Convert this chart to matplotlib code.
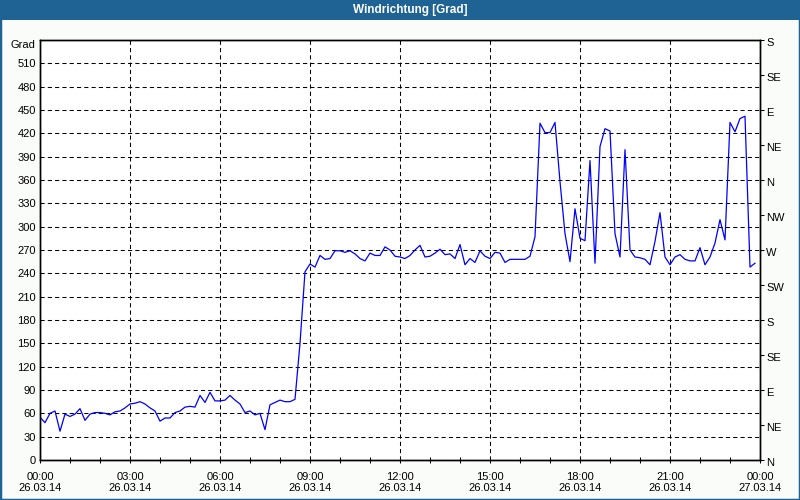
import matplotlib
matplotlib.use('Agg')
import matplotlib.pyplot as plt
import matplotlib.dates as mdates
import matplotlib.transforms as mtransforms
from matplotlib.patches import Rectangle
import pandas as pd

plt.rcParams['font.family'] = ['Liberation Sans', 'DejaVu Sans']

# ---- data ----
start_time = '2014-03-26 00:00'
step = '10min'
wind_dir = [55, 48, 60, 63, 37, 59, 56, 59, 66, 51,
            59, 61, 61, 60, 58, 62, 63, 67, 72, 73,
            75, 72, 67, 63, 50, 54, 54, 61, 63, 68,
            69, 68, 83, 74, 87, 76, 76, 77, 83, 77,
            72, 61, 63, 58, 60, 39, 71, 74, 77, 75,
            75, 78, 150, 242, 252, 248, 263, 258, 259, 269,
            269, 267, 269, 265, 259, 256, 266, 263, 263, 274,
            270, 262, 261, 259, 263, 270, 276, 261, 262, 266,
            271, 264, 265, 259, 277, 251, 259, 254, 269, 262,
            259, 267, 266, 254, 258, 258, 258, 258, 262, 287,
            433, 421, 421, 434, 358, 291, 255, 323, 285, 282,
            385, 253, 403, 426, 423, 291, 261, 399, 270, 261,
            260, 258, 251, 281, 318, 261, 251, 261, 264, 258,
            256, 256, 273, 251, 261, 279, 309, 283, 434, 422,
            439, 442, 248, 253]

x_tick_times = ['2014-03-26 00:00', '2014-03-26 03:00', '2014-03-26 06:00',
                '2014-03-26 09:00', '2014-03-26 12:00', '2014-03-26 15:00',
                '2014-03-26 18:00', '2014-03-26 21:00', '2014-03-27 00:00']
x_tick_labels = ['00:00\n26.03.14', '03:00\n26.03.14', '06:00\n26.03.14',
                 '09:00\n26.03.14', '12:00\n26.03.14', '15:00\n26.03.14',
                 '18:00\n26.03.14', '21:00\n26.03.14', '00:00\n27.03.14']
left_ticks = [0, 30, 60, 90, 120, 150, 180, 210, 240, 270, 300, 330, 360,
              390, 420, 450, 480, 510, 540]
left_labels = ['0', '30', '60', '90', '120', '150', '180', '210', '240', '270',
               '300', '330', '360', '390', '420', '450', '480', '510', 'Grad']
right_ticks = [0, 45, 90, 135, 180, 225, 270, 315, 360, 405, 450, 495, 540]
right_labels = ['N', 'NE', 'E', 'SE', 'S', 'SW', 'W', 'NW', 'N', 'NE', 'E', 'SE', 'S']
title = 'Windrichtung [Grad]'

# ---- styling ----
bar_blue = '#1e6394'
times = pd.date_range(start_time, periods=len(wind_dir), freq=step)
xt = mdates.date2num(pd.to_datetime(x_tick_times))

fig = plt.figure(figsize=(8, 5), dpi=100, facecolor='#f9fcf9')
ax = fig.add_axes([40/800, 40/500, 720/800, 420/500])
ax.set_facecolor('white')
ax.plot(mdates.date2num(times), wind_dir, color='#0000ff', lw=0.9, zorder=3)
ax.set_xlim(xt[0], xt[-1])
ax.set_ylim(left_ticks[0], left_ticks[-1])

ax.set_xticks(xt)
ax.set_xticklabels(x_tick_labels)
minor = mdates.date2num(pd.date_range(x_tick_times[0], x_tick_times[-1], freq='1h'))
ax.set_xticks(minor, minor=True)
ax.set_yticks(left_ticks)
ax.set_yticklabels(left_labels)

ax.grid(True, which='major', color='black', linestyle=(0, (4, 3)), linewidth=0.75)
ax.tick_params(axis='x', which='both', direction='inout', length=4, width=0.75,
               pad=6.5, labelsize=8, colors='black')
ax.tick_params(axis='y', which='both', length=0, pad=3, labelsize=8)
for sp in ax.spines.values():
    sp.set_color('black')
    sp.set_linewidth(1.0)

ylabs = ax.get_yticklabels()
ylabs[-1].set_va('top')

ax2 = ax.twinx()
ax2.set_ylim(left_ticks[0], left_ticks[-1])
ax2.set_yticks(right_ticks)
ax2.set_yticklabels(right_labels)
ax2.tick_params(axis='y', direction='out', length=3, width=0.75, pad=1.5, labelsize=8)
for sp in ax2.spines.values():
    sp.set_color('black')
    sp.set_linewidth(1.0)
off = mtransforms.ScaledTranslation(0, -2/100, fig.dpi_scale_trans)
for lab in ax2.get_yticklabels():
    lab.set_transform(lab.get_transform() + off)

# title bar and frame
fig.patches.append(Rectangle((0, 480/500), 1, 20/500, transform=fig.transFigure,
                             facecolor=bar_blue, edgecolor='none', zorder=0))
fig.patches.append(Rectangle((0, 0), 1, 1, transform=fig.transFigure, fill=False,
                             edgecolor=bar_blue, lw=2.5, zorder=5))
fig.text(410/800, 1 - 10/500, title, color='white', fontweight='bold',
         fontsize=8.5, ha='center', va='center')

fig.savefig('out.png', dpi=100, facecolor=fig.get_facecolor())
